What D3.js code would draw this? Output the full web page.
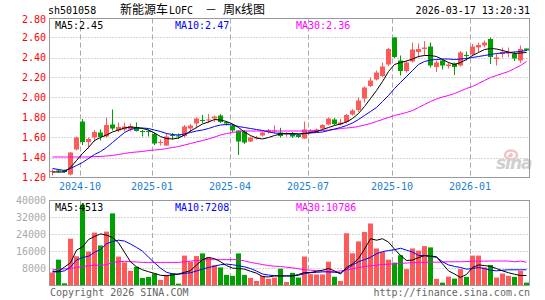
<!DOCTYPE html>
<html><head><meta charset="utf-8">
<script src="https://cdn.jsdelivr.net/npm/d3@7"></script>
<style>body{margin:0;background:#fff;} svg{display:block;}</style>
</head><body><svg id="c" width="545" height="300"></svg>
<script>
// ---- data ----
const weeks = ["2024-09-06","2024-09-13","2024-09-20","2024-09-27","2024-09-30","2024-10-11","2024-10-18","2024-10-25","2024-11-01","2024-11-08",
"2024-11-15","2024-11-22","2024-11-29","2024-12-06","2024-12-13","2024-12-20","2024-12-27","2025-01-03","2025-01-10","2025-01-17",
"2025-01-24","2025-01-27","2025-02-07","2025-02-14","2025-02-21","2025-02-28","2025-03-07","2025-03-14","2025-03-21","2025-03-28",
"2025-04-03","2025-04-11","2025-04-18","2025-04-25","2025-04-30","2025-05-09","2025-05-16","2025-05-23","2025-05-30","2025-06-06",
"2025-06-13","2025-06-20","2025-06-27","2025-07-04","2025-07-11","2025-07-18","2025-07-25","2025-08-01","2025-08-08","2025-08-15",
"2025-08-22","2025-08-29","2025-09-05","2025-09-12","2025-09-19","2025-09-26","2025-09-30","2025-10-10","2025-10-17","2025-10-24",
"2025-10-31","2025-11-07","2025-11-14","2025-11-21","2025-11-28","2025-12-05","2025-12-12","2025-12-19","2025-12-26","2025-12-31",
"2026-01-09","2026-01-16","2026-01-23","2026-01-30","2026-02-06","2026-02-13","2026-02-27","2026-03-06","2026-03-13","2026-03-17"];

const open  = [1.255,1.27,1.27,1.23,1.48,1.76,1.555,1.60,1.65,1.61, 1.73,1.67,1.68,1.68,1.70,1.665,1.665,1.635,1.545,1.52,
1.625,1.62,1.615,1.69,1.74,1.775,1.77,1.79,1.82,1.755, 1.715,1.67,1.66,1.56,1.595,1.62,1.655,1.66,1.65,1.64,
1.64,1.625,1.59,1.655,1.655,1.69,1.73,1.78,1.73,1.755, 1.83,1.875,1.99,2.115,2.18,2.215,2.33,2.60,2.37,2.265,
2.36,2.455,2.485,2.51,2.305,2.37,2.315,2.34,2.32,2.425, 2.43,2.50,2.52,2.585,2.385,2.435,2.445,2.435,2.37,2.49];
const high  = [1.28,1.285,1.28,1.455,1.61,1.785,1.60,1.675,1.68,1.80, 1.88,1.75,1.75,1.74,1.75,1.675,1.68,1.65,1.58,1.645,
1.645,1.64,1.725,1.735,1.80,1.825,1.835,1.82,1.833,1.76, 1.735,1.67,1.675,1.61,1.615,1.66,1.685,1.72,1.697,1.655,
1.655,1.635,1.76,1.685,1.69,1.735,1.80,1.795,1.785,1.835, 1.885,2.00,2.11,2.20,2.27,2.35,2.495,2.605,2.42,2.37,
2.55,2.54,2.565,2.55,2.37,2.385,2.355,2.35,2.465,2.46, 2.535,2.55,2.57,2.60,2.435,2.50,2.50,2.46,2.52,2.49];
const low   = [1.22,1.25,1.25,1.22,1.47,1.525,1.49,1.56,1.57,1.60, 1.67,1.655,1.66,1.66,1.66,1.61,1.61,1.525,1.52,1.515,
1.58,1.585,1.60,1.655,1.69,1.745,1.745,1.755,1.745,1.72, 1.655,1.425,1.535,1.555,1.58,1.61,1.64,1.64,1.60,1.607,
1.595,1.595,1.585,1.64,1.645,1.685,1.72,1.72,1.72,1.74, 1.82,1.855,1.95,2.105,2.17,2.205,2.315,2.395,2.22,2.25,
2.35,2.40,2.42,2.30,2.255,2.28,2.29,2.225,2.31,2.37, 2.41,2.45,2.50,2.335,2.32,2.40,2.405,2.365,2.345,2.465];
const close = [1.265,1.26,1.255,1.45,1.60,1.555,1.585,1.655,1.605,1.725, 1.69,1.705,1.71,1.715,1.665,1.66,1.655,1.54,1.555,1.61,
1.62,1.615,1.71,1.72,1.79,1.765,1.78,1.81,1.755,1.74, 1.67,1.56,1.55,1.60,1.60,1.65,1.675,1.67,1.615,1.645,
1.61,1.605,1.68,1.67,1.68,1.725,1.79,1.735,1.75,1.825, 1.87,1.97,2.10,2.17,2.25,2.31,2.485,2.405,2.265,2.35,
2.48,2.485,2.50,2.32,2.35,2.32,2.33,2.305,2.45,2.42, 2.51,2.525,2.55,2.405,2.40,2.455,2.45,2.39,2.485,2.47];
const volume = [5920,12000,800,21920,13600,37920,15840,24800,18720,25280, 33920,13440,10720,6720,8640,3360,3840,5440,2400,4800,
5600,640,13920,11000,13700,14960,13300,9400,8320,4800, 4320,14960,4800,3360,1920,4320,2880,3500,7700,1440,
5760,3520,13500,5120,5000,5000,11040,3900,1920,24500, 15000,20640,25120,29120,17300,15600,12000,10600,14100,7520,
17300,16300,18400,17800,2900,1120,4000,3040,7520,3840, 13920,13920,8320,9440,3520,5440,4320,3840,6720,1120];

const ma5  = [1.255,1.255,1.255,1.30,1.37,1.44,1.50,1.57,1.60,1.625, 1.655,1.675,1.695,1.705,1.70,1.69,1.675,1.645,1.61,1.59,
1.585,1.595,1.625,1.665,1.70,1.735,1.755,1.78,1.775,1.76, 1.735,1.70,1.655,1.62,1.595,1.585,1.60,1.62,1.635,1.64,
1.64,1.635,1.64,1.65,1.66,1.68,1.70,1.72,1.735,1.755, 1.79,1.84,1.91,1.99,2.07,2.16,2.26,2.33,2.35,2.365,
2.385,2.41,2.42,2.42,2.41,2.38,2.35,2.33,2.35,2.38, 2.42,2.45,2.48,2.49,2.485,2.47,2.455,2.44,2.445,2.45];
const ma10 = [1.29,1.28,1.27,1.29,1.32,1.35,1.39,1.43,1.46,1.50, 1.55,1.60,1.65,1.68,1.695,1.695,1.69,1.675,1.66,1.64,
1.63,1.625,1.635,1.65,1.665,1.675,1.69,1.71,1.725,1.73, 1.725,1.71,1.70,1.69,1.68,1.67,1.655,1.645,1.64,1.635,
1.635,1.635,1.64,1.645,1.65,1.655,1.67,1.685,1.70,1.72, 1.745,1.78,1.82,1.86,1.90,1.96,2.02,2.09,2.15,2.21,
2.27,2.33,2.36,2.375,2.38,2.385,2.385,2.38,2.385,2.39, 2.40,2.41,2.42,2.43,2.44,2.445,2.45,2.455,2.46,2.47];
const ma30 = [1.405,1.405,1.405,1.405,1.405,1.405,1.405,1.41,1.41,1.415, 1.42,1.43,1.44,1.45,1.455,1.46,1.47,1.475,1.48,1.49,
1.50,1.51,1.525,1.54,1.555,1.57,1.585,1.605,1.625,1.64, 1.65,1.66,1.665,1.665,1.665,1.665,1.665,1.665,1.665,1.665,
1.665,1.665,1.665,1.667,1.67,1.67,1.675,1.68,1.69,1.695, 1.70,1.71,1.725,1.74,1.76,1.78,1.80,1.82,1.835,1.85,
1.87,1.90,1.93,1.96,1.985,2.005,2.02,2.04,2.065,2.09, 2.11,2.14,2.17,2.20,2.22,2.24,2.26,2.29,2.32,2.36];

const volMa5  = [6500,6500,8500,10500,16500,18000,21500,23000,24200,23600, 22500,20000,15500,11000,8600,7200,6300,5500,4600,4400,
4800,5200,6000,6800,9500,12000,13000,12500,11000,9200, 8000,7800,7500,6500,5600,4000,3800,4300,4300,4300,
4300,5000,5900,5900,6500,7000,7800,6700,5200,8300, 10000,12500,17000,21900,21200,21900,20300,17000,14000,11600,
11800,13000,13900,13700,13400,10000,6700,5200,3600,5000, 8300,9500,9200,8800,7800,6700,5800,5100,4500,4513];
const volMa10 = [6200,6200,6700,8500,11800,13000,13600,15500,16800,19500, 20600,21200,20800,19400,17800,16000,13200,10500,8000,6000,
5300,5100,5500,5800,6600,7500,8300,8900,9600,9900, 9600,9100,8600,7800,6600,5200,4700,4400,4300,4300,
4300,4600,5400,5800,6000,6200,6200,6000,5800,7500, 9500,11000,12000,13100,14800,15800,16300,16700,17400,16500,
15600,14000,13900,13500,13100,11000,9500,8800,8300,7500, 7800,8300,7800,7000,6700,7000,7200,7200,7200,7208];
const volMa30 = [7200,7500,7600,7800,8300,8700,9100,9300,9400,9600, 10700,11000,11200,11000,10900,10700,10700,10700,10700,10700,
10700,10700,11000,11300,11600,11800,12000,12000,12000,12000, 12000,12000,11400,10700,10200,9700,9200,8900,8800,8400,
8100,7700,7200,7000,6800,6600,6400,6300,6700,7100, 7600,8300,8700,9100,9400,9700,9900,10000,10200,10400,
10600,10700,10700,10800,10800,10900,11000,11000,11000,11100, 11200,11300,11300,11350,11350,11350,11350,11000,11300,10786];

const priceTicks = [1.20,1.40,1.60,1.80,2.00,2.20,2.40,2.60,2.80];
const volTicks = [8000,16000,24000,32000,40000];
const monthTickWeeks = ["2024-10-11","2025-01-03","2025-04-03","2025-07-04","2025-10-10","2026-01-09"];
const monthTickLabels = ["2024-10","2025-01","2025-04","2025-07","2025-10","2026-01"];

// ---- drawing ----
const RED = "#ff5a5a", GREEN = "#00a000";
const MONO = "'DejaVu Sans Mono', 'Liberation Mono', monospace";
const CJK = "'Noto Sans CJK SC', sans-serif";
const svg = d3.select("#c");
const L = 49, R = 529;
const x = d3.scaleBand().domain(weeks).range([L, R]).paddingInner(0).paddingOuter(0);
const py = d3.scaleLinear().domain([1.2, 2.8]).range([177.5, 17.5]);
const vy = d3.scaleLinear().domain([0, 40000]).range([285, 200.5]);
const cx = d => x(d) + 3.5;

// header
svg.append("text").attr("x", 48).attr("y", 14).attr("font-family", MONO).attr("font-size", 10).attr("fill", "#000").text("sh501058");
const title = svg.append("text").attr("y", 14).attr("fill", "#000");
title.append("tspan").attr("x", 120).attr("font-family", CJK).attr("font-size", 12).text("新能源车");
title.append("tspan").attr("x", 169).attr("font-family", MONO).attr("font-size", 10).text("LOFC");
title.append("tspan").attr("x", 205).attr("font-family", CJK).attr("font-size", 12).text("－");
title.append("tspan").attr("x", 223).attr("font-family", CJK).attr("font-size", 12).text("周");
title.append("tspan").attr("x", 235).attr("font-family", MONO).attr("font-size", 10).text("K");
title.append("tspan").attr("x", 241).attr("font-family", CJK).attr("font-size", 12).text("线图");
svg.append("text").attr("x", 530).attr("y", 14).attr("text-anchor", "end").attr("font-family", MONO).attr("font-size", 10).attr("fill", "#000").text("2026-03-17 13:20:31");

// gridlines - price
const gPrice = svg.append("g");
gPrice.selectAll("line.h").data(priceTicks.filter(t => t > 1.2 && t < 2.8)).join("line")
  .attr("x1", L + 0.5).attr("x2", R + 0.5).attr("y1", d => Math.round(py(d)) + 0.5).attr("y2", d => Math.round(py(d)) + 0.5)
  .attr("stroke", "#aaa").attr("stroke-dasharray", "1,2");
gPrice.selectAll("line.v").data(monthTickWeeks).join("line")
  .attr("x1", d => x(d) + 1.5).attr("x2", d => x(d) + 1.5).attr("y1", 18.5).attr("y2", 177.5)
  .attr("stroke", "#aaa").attr("stroke-dasharray", "5,3");
// gridlines - volume
const gVol = svg.append("g");
gVol.selectAll("line.h").data(volTicks.filter(t => t < 40000)).join("line")
  .attr("x1", L + 0.5).attr("x2", R + 0.5).attr("y1", d => Math.round(vy(d)) + 0.5).attr("y2", d => Math.round(vy(d)) + 0.5)
  .attr("stroke", "#aaa").attr("stroke-dasharray", "1,2");
gVol.selectAll("line.v").data(monthTickWeeks).join("line")
  .attr("x1", d => x(d) + 1.5).attr("x2", d => x(d) + 1.5).attr("y1", 201).attr("y2", 285)
  .attr("stroke", "#aaa").attr("stroke-dasharray", "5,3");

// sina watermark
const wm = svg.append("g");
wm.append("ellipse").attr("cx", 511).attr("cy", 155).attr("rx", 6).attr("ry", 4.5).attr("fill", "none").attr("stroke", "#f2c4c4").attr("stroke-width", 2.5);
wm.append("circle").attr("cx", 511).attr("cy", 155).attr("r", 2).attr("fill", "#f2c4c4");
wm.append("text").attr("x", 496).attr("y", 169).attr("font-family", "'DejaVu Sans', sans-serif").attr("font-size", 17)
  .attr("font-style", "italic").attr("font-weight", "bold").attr("fill", "#cfcfcf").attr("letter-spacing", -1).text("sina");

// candles
const idx = d3.range(weeks.length);
const gC = svg.append("g");
gC.selectAll("line.w").data(idx).join("line")
  .attr("x1", i => cx(weeks[i])).attr("x2", i => cx(weeks[i]))
  .attr("y1", i => py(high[i])).attr("y2", i => py(low[i]))
  .attr("stroke", i => close[i] >= open[i] ? RED : GREEN).attr("stroke-width", 1);
gC.selectAll("rect").data(idx).join("rect")
  .attr("x", i => x(weeks[i]) + 1).attr("width", 5)
  .attr("y", i => py(Math.max(open[i], close[i])))
  .attr("height", i => Math.max(1, Math.abs(py(open[i]) - py(close[i]))))
  .attr("fill", i => close[i] >= open[i] ? RED : GREEN);

// volume bars
svg.append("g").selectAll("rect").data(idx).join("rect")
  .attr("x", i => x(weeks[i]) + 1).attr("width", 5)
  .attr("y", i => vy(volume[i])).attr("height", i => vy(0) - vy(volume[i]))
  .attr("fill", i => close[i] >= open[i] ? RED : GREEN);

// MA lines
const pLine = arr => d3.line().x((d, i) => cx(weeks[i])).y(d => py(d))(arr);
const vLine = arr => d3.line().x((d, i) => cx(weeks[i])).y(d => vy(d))(arr);
[[ma30, "#ff00ff"], [ma10, "#0000ff"], [ma5, "#000"]].forEach(([a, c]) =>
  svg.append("path").attr("d", pLine(a)).attr("fill", "none").attr("stroke", c).attr("stroke-width", 1));
[[volMa30, "#ff00ff"], [volMa10, "#0000ff"], [volMa5, "#000"]].forEach(([a, c]) =>
  svg.append("path").attr("d", vLine(a)).attr("fill", "none").attr("stroke", c).attr("stroke-width", 1));

// frames
svg.append("rect").attr("x", L + 0.5).attr("y", 18.5).attr("width", R - L).attr("height", 159).attr("fill", "none").attr("stroke", "#999");
svg.append("rect").attr("x", L + 0.5).attr("y", 200.5).attr("width", R - L).attr("height", 85).attr("fill", "none").attr("stroke", "#999");

// price axis labels
svg.append("g").selectAll("text").data(priceTicks).join("text")
  .attr("x", 46).attr("y", d => Math.max(py(d), 19) + 3.5).attr("text-anchor", "end")
  .attr("font-family", MONO).attr("font-size", 10).attr("fill", "#f00").text(d => d.toFixed(2));
// volume axis labels
svg.append("g").selectAll("text").data(volTicks).join("text")
  .attr("x", 46).attr("y", d => vy(d) + 3.5).attr("text-anchor", "end")
  .attr("font-family", MONO).attr("font-size", 10).attr("fill", "#aaa").text(d => d);
// x labels
svg.append("g").selectAll("text").data(monthTickWeeks).join("text")
  .attr("x", (d) => x(d) + 1).attr("y", 189.5).attr("text-anchor", "middle")
  .attr("font-family", MONO).attr("font-size", 10).attr("fill", "#1a7fd0").text((d, i) => monthTickLabels[i]);

// MA legends
const legend = (y, items) => items.forEach(([tx, xx, c]) =>
  svg.append("text").attr("x", xx).attr("y", y).attr("font-family", MONO).attr("font-size", 10).attr("fill", c).text(tx));
legend(28.5, [["MA5:2.45", 55, "#000"], ["MA10:2.47", 175, "#0000ff"], ["MA30:2.36", 296, "#ff00ff"]]);
legend(210.5, [["MA5:4513", 55, "#000"], ["MA10:7208", 175, "#0000ff"], ["MA30:10786", 296, "#ff00ff"]]);

// footer
svg.append("text").attr("x", 50).attr("y", 296).attr("font-family", MONO).attr("font-size", 10).attr("fill", "#666").text("Copyright 2026 SINA.COM");
svg.append("text").attr("x", 530).attr("y", 296).attr("text-anchor", "end").attr("font-family", MONO).attr("font-size", 10).attr("fill", "#666").text("http://finance.sina.com.cn");
</script></body></html>
